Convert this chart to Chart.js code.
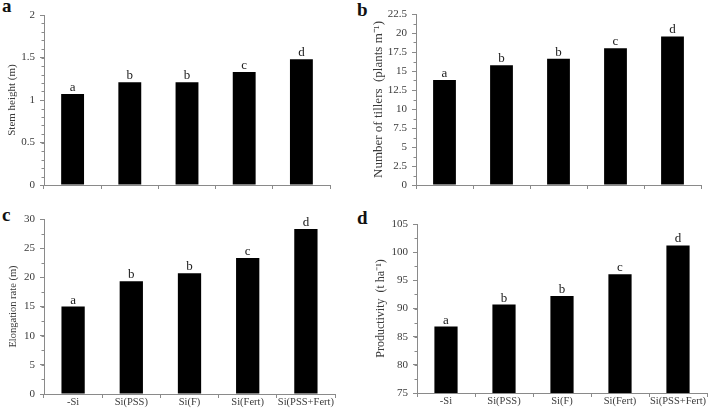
<!DOCTYPE html>
<html>
<head>
<meta charset="utf-8">
<script src="https://cdn.jsdelivr.net/npm/chart.js@4/dist/chart.umd.min.js"></script>
<style>
  body { margin: 0; background: #fff; width: 708px; height: 415px; position: relative; overflow: hidden; }
  canvas { position: absolute; }
  .tag { position: absolute; font: bold 19px "Liberation Serif", serif; line-height: 19px; color: #111; }
</style>
</head>
<body>
<div class="tag" style="left:2px;top:-4px">a</div>
<div class="tag" style="left:357px;top:0px">b</div>
<div class="tag" style="left:2px;top:205px">c</div>
<div class="tag" style="left:357px;top:208px">d</div>

<canvas id="chartA" width="354" height="200" style="left:0;top:0"></canvas>
<canvas id="chartB" width="354" height="200" style="left:354px;top:0"></canvas>
<canvas id="chartC" width="354" height="215" style="left:0;top:200px"></canvas>
<canvas id="chartD" width="354" height="215" style="left:354px;top:200px"></canvas>

<script>
// Data
const categories = ['-Si', 'Si(PSS)', 'Si(F)', 'Si(Fert)', 'Si(PSS+Fert)'];
const stemHeight = [1.07, 1.21, 1.21, 1.33, 1.48];
const tillers = [13.8, 15.75, 16.6, 18.0, 19.55];
const elongation = [15.0, 19.35, 20.7, 23.3, 28.3];
const productivity = [86.8, 90.7, 92.2, 96.1, 101.2];
const letters = ['a', 'b', 'b', 'c', 'd'];

const serif = '"Liberation Serif", "Times New Roman", serif';
const axisColor = '#8a8a8a';
const textColor = '#3a3a3a';

// letters above the bars
const letterPlugin = {
    id: 'letters',
    afterDatasetsDraw(chart) {
        const ctx = chart.ctx;
        const meta = chart.getDatasetMeta(0);
        ctx.save();
        ctx.font = '13px ' + serif;
        ctx.fillStyle = '#1a1a1a';
        ctx.textAlign = 'center';
        ctx.textBaseline = 'alphabetic';
        meta.data.forEach((bar, i) => {
            ctx.fillText(letters[i], bar.x, bar.y - 3);
        });
        ctx.restore();
    }
};

// small minor ticks on the value axis
const minorTickPlugin = {
    id: 'minorTicks',
    afterDraw(chart, args, opts) {
        const y = chart.scales.y;
        const ctx = chart.ctx;
        ctx.save();
        ctx.strokeStyle = axisColor;
        ctx.lineWidth = 1;
        const n = Math.round((y.max - y.min) / opts.step);
        for (let i = 0; i <= n; i++) {
            const v = y.min + i * opts.step;
            const py = Math.round(y.getPixelForValue(v)) + 0.5;
            ctx.beginPath();
            ctx.moveTo(y.right - 2.5, py);
            ctx.lineTo(y.right, py);
            ctx.stroke();
        }
        ctx.restore();
    }
};

function makePanel(id, values, o) {
    return new Chart(document.getElementById(id), {
        type: 'bar',
        data: {
            labels: categories,
            datasets: [{
                data: values,
                backgroundColor: '#000',
                borderWidth: 0,
                barPercentage: 0.4,
                categoryPercentage: 1.0
            }]
        },
        options: {
            responsive: false,
            animation: false,
            devicePixelRatio: 1,
            layout: { padding: { left: 0, top: o.padTop, right: o.padRight, bottom: 0 } },
            plugins: {
                legend: { display: false },
                tooltip: { enabled: false },
                minorTicks: { step: o.minor }
            },
            scales: {
                x: {
                    grid: { drawOnChartArea: false, drawTicks: true, tickLength: 4, color: axisColor, offset: true },
                    border: { display: true, color: axisColor },
                    ticks: {
                        display: o.showX,
                        autoSkip: false,
                        maxRotation: 0,
                        minRotation: 0,
                        padding: -2,
                        color: textColor,
                        font: { family: serif, size: 10.5 }
                    },
                    afterFit: s => { s.height = o.xHeight; }
                },
                y: {
                    min: o.min,
                    max: o.max,
                    grid: { drawOnChartArea: false, drawTicks: true, tickLength: 4, color: axisColor },
                    border: { display: true, color: axisColor },
                    ticks: {
                        stepSize: o.step,
                        padding: 5,
                        color: textColor,
                        font: { family: serif, size: 11 },
                        callback: v => String(Math.round(v * 100) / 100)
                    },
                    title: {
                        display: true,
                        text: o.title,
                        color: textColor,
                        font: { family: serif, size: o.titleSize },
                        padding: { top: o.titlePad, bottom: 0 }
                    },
                    afterFit: s => { s.width = o.yWidth; }
                }
            }
        },
        plugins: [letterPlugin, minorTickPlugin]
    });
}

makePanel('chartA', stemHeight, {
    min: 0, max: 2, step: 0.5, minor: 0.1,
    title: 'Stem height (m)', titleSize: 11, titlePad: 6,
    yWidth: 44, xHeight: 15, padTop: 15, padRight: 24, showX: false
});
makePanel('chartB', tillers, {
    min: 0, max: 22.5, step: 2.5, minor: 1.25,
    title: 'Number of tillers  (plants m\u207B\u00B9)', titleSize: 13, titlePad: 17,
    yWidth: 62, xHeight: 15, padTop: 14, padRight: 7, showX: false
});
makePanel('chartC', elongation, {
    min: 0, max: 30, step: 5, minor: 2.5,
    title: 'Elongation rate (m)', titleSize: 10.5, titlePad: 7,
    yWidth: 44, xHeight: 21, padTop: 19, padRight: 19, showX: true
});
makePanel('chartD', productivity, {
    min: 75, max: 105, step: 5, minor: 2.5,
    title: 'Productivity  (t ha\u207B\u00B9)', titleSize: 12, titlePad: 20,
    yWidth: 63, xHeight: 22, padTop: 24, padRight: 1, showX: true
});
</script>
</body>
</html>
